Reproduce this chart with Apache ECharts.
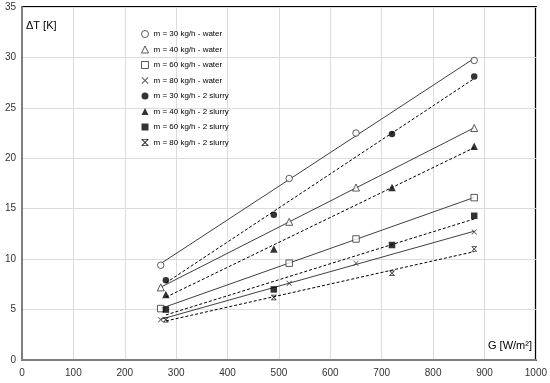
<!DOCTYPE html>
<html><head><meta charset="utf-8">
<script src="https://cdn.jsdelivr.net/npm/echarts@6/dist/echarts.min.js"></script>
<style>html,body{margin:0;padding:0;background:#fff}#c{width:550px;height:383px}</style>
</head><body><div id="c"></div>
<script>
// ---- data ----
const gWater  = [270, 520, 650, 880];
const gSlurry = [280, 490, 720, 880];
const water30  = [9.4, 18.0, 22.5, 29.7];
const water40  = [7.2, 13.7, 17.1, 23.0];
const water60  = [5.1, 9.6, 12.0, 16.1];
const water80  = [4.0, 7.6, 9.6, 12.7];
const slurry30 = [7.9, 14.4, 22.4, 28.1];
const slurry40 = [6.5, 11.0, 17.1, 21.2];
const slurry60 = [5.0, 7.0, 11.4, 14.3];
const slurry80 = [4.0, 6.2, 8.6, 11.0];
const seriesNames = [
  'm = 30 kg/h - water', 'm = 40 kg/h - water', 'm = 60 kg/h - water', 'm = 80 kg/h - water',
  'm = 30 kg/h - 2 slurry', 'm = 40 kg/h - 2 slurry', 'm = 60 kg/h - 2 slurry', 'm = 80 kg/h - 2 slurry'
];
const xAxisTitle = 'G [W/m²]';
const yAxisTitle = 'ΔT [K]';
const xMin = 0, xMax = 1000, xStep = 100;
const yMin = 0, yMax = 35, yStep = 5;

// ---- styling ----
const FONT = 'Liberation Sans';
const X_PATH = 'path://M1,0 L5,4 L9,0 L10,1 L6,5 L10,9 L9,10 L5,6 L1,10 L0,9 L4,5 L0,1 Z';
const STAR_PATH = 'path://M1,0 L5,4 L9,0 L10,1 L6,5 L10,9 L9,10 L5,6 L1,10 L0,9 L4,5 L0,1 Z M0,0 L10,0 L10,1.2 L0,1.2 Z M0,8.8 L10,8.8 L10,10 L0,10 Z';

const hollow = {color: '#fff', borderColor: '#333', borderWidth: 1};
const filled = {color: '#000', borderWidth: 0};
const defs = [
  {x: gWater,  y: water30,  symbol: 'circle',   size: 6.5, style: hollow, water: true},
  {x: gWater,  y: water40,  symbol: 'triangle', size: 7, style: hollow, water: true},
  {x: gWater,  y: water60,  symbol: 'rect',     size: 6.5, style: hollow, water: true},
  {x: gWater,  y: water80,  symbol: X_PATH,     size: 5.5, style: {color: '#333'}, water: true},
  {x: gSlurry, y: slurry30, symbol: 'circle',   size: 6.5, style: filled, water: false},
  {x: gSlurry, y: slurry40, symbol: 'triangle', size: 7.5, style: filled, water: false},
  {x: gSlurry, y: slurry60, symbol: 'rect',     size: 6.5, style: filled, water: false},
  {x: gSlurry, y: slurry80, symbol: STAR_PATH,  size: 5.5, style: {color: '#000'}, water: false}
];

function trend(xs, ys) {
  const n = xs.length;
  const mx = xs.reduce((a, b) => a + b, 0) / n;
  const my = ys.reduce((a, b) => a + b, 0) / n;
  let sxy = 0, sxx = 0;
  for (let i = 0; i < n; i++) { sxy += (xs[i] - mx) * (ys[i] - my); sxx += (xs[i] - mx) * (xs[i] - mx); }
  const b = sxy / sxx, a = my - b * mx;
  return [[xs[0], a + b * xs[0]], [xs[n - 1], a + b * xs[n - 1]]];
}

const series = [];
defs.forEach((d, i) => {
  series.push({
    type: 'line', data: trend(d.x, d.y), symbol: 'none', silent: true, z: 2,
    lineStyle: d.water ? {color: '#404040', width: 1, type: 'solid'}
                       : {color: '#000', width: 1, type: [3, 2]}
  });
});
defs.forEach((d, i) => {
  series.push({
    name: seriesNames[i], type: 'scatter', z: 5,
    data: d.x.map((x, k) => [x, d.y[k]]),
    symbol: d.symbol, symbolSize: d.size, itemStyle: d.style
  });
});

const chart = echarts.init(document.getElementById('c'), null, {renderer: 'canvas'});
chart.setOption({
  animation: false,
  backgroundColor: '#fff',
  grid: {left: 22, right: 14, top: 7, bottom: 23, show: true, borderColor: '#000', borderWidth: 2, backgroundColor: 'transparent'},
  xAxis: {
    type: 'value', min: xMin, max: xMax, interval: xStep,
    axisLine: {show: true, onZero: false, lineStyle: {color: '#7f7f7f', width: 2}},
    axisTick: {show: false},
    axisLabel: {color: '#333', fontFamily: FONT, fontSize: 10, margin: 8, formatter: v => String(v)},
    splitLine: {show: true, lineStyle: {color: '#dcdcdc', width: 1}}
  },
  yAxis: {
    type: 'value', min: yMin, max: yMax, interval: yStep,
    axisLine: {show: true, onZero: false, lineStyle: {color: '#7f7f7f', width: 2}},
    axisTick: {show: false},
    axisLabel: {color: '#333', fontFamily: FONT, fontSize: 10, margin: 6, formatter: v => String(v)},
    splitLine: {show: true, lineStyle: {color: '#dcdcdc', width: 1}}
  },
  legend: {
    orient: 'vertical', left: 141, top: 29, padding: 0,
    itemWidth: 7, itemHeight: 7, itemGap: 5.5,
    textStyle: {fontFamily: FONT, fontSize: 8, color: '#000', lineHeight: 10},
    data: seriesNames.map((n, i) => ({name: n, icon: defs[i].symbol, itemStyle: defs[i].style}))
  },
  graphic: [
    {type: 'text', left: 26, top: 20, style: {text: yAxisTitle, font: '11px "' + FONT + '"', fill: '#000'}},
    {type: 'text', right: 18, top: 340, style: {text: xAxisTitle, font: '11px "' + FONT + '"', fill: '#000'}}
  ],
  series: series
});
</script>
</body></html>
